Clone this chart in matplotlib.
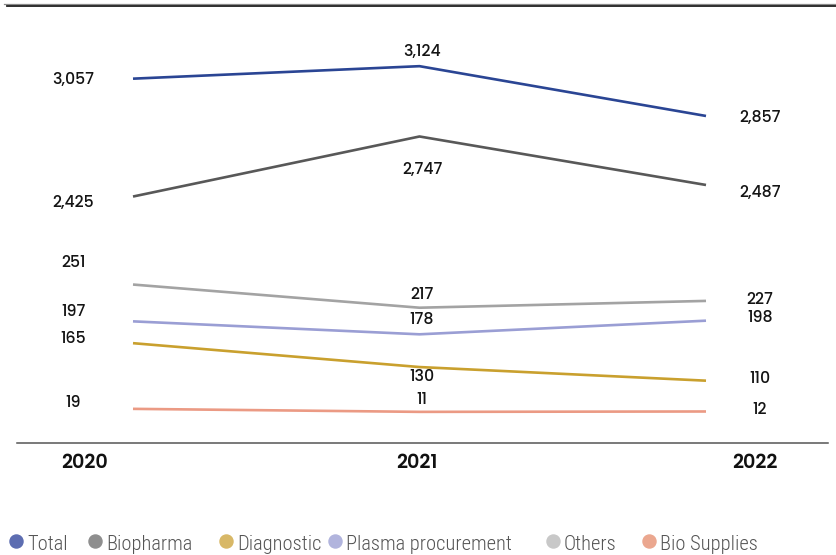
import numpy as np
import matplotlib
matplotlib.use("Agg")
import matplotlib.pyplot as plt
from matplotlib.lines import Line2D

# ---- data -------------------------------------------------------------
years = [2020, 2021, 2022]
series_names = ["Total", "Biopharma", "Diagnostic", "Plasma procurement",
                "Others", "Bio Supplies"]
total = [3057, 3124, 2857]
biopharma = [2425, 2747, 2487]
diagnostic = [165, 130, 110]
plasma = [197, 178, 198]
others = [251, 217, 227]
bio_supplies = [19, 11, 12]

# ---- styling ------------------------------------------------------------
line_colors = ["#2a4594", "#585858", "#c9a02e", "#9a9ed4", "#a3a3a3", "#eb9a84"]
legend_colors = ["#5d6db1", "#8e8e8e", "#d8b867", "#b1b4dd", "#c8c8c8", "#eba78f"]

# value-label offsets in pixels (dx per year, dy per series/year; +dy = down)
label_dx = [-59.5, 2.5, 54]
label_dy = {
    "Total": [1, -14, 2],
    "Biopharma": [6, 34, 8],
    "Diagnostic": [-4, 10, -2],
    "Plasma procurement": [-9, -14, -3],
    "Others": [-22, -13, -1],
    "Bio Supplies": [-6, -12, -1],
}

W, H = 836, 555
fig = plt.figure(figsize=(W / 100, H / 100), dpi=100)
ax = fig.add_axes([17 / W, 112 / H, (828 - 17) / W, 435 / H])

# broken value axis: a low band, a mid band and a high band
band_values = [-20, 0, 25, 100, 260, 2400, 3200, 3450]
band_heights = [0, 27, 36.4, 55.5, 164.6, 241.8, 391, 435]


def fwd(v):
    return np.interp(v, band_values, band_heights)


def inv(h):
    return np.interp(h, band_heights, band_values)


ax.set_yscale("function", functions=(fwd, inv))
ax.set_ylim(-20, 3450)
ax.set_xlim(2020 - 116 * 2 / 573, 2022 + 122 * 2 / 573)

all_series = [total, biopharma, diagnostic, plasma, others, bio_supplies]
px2pt = 0.72
value_font = dict(family="Poppins", weight=500, fontsize=11.3,
                  color="#141414")

for name, vals, col in zip(series_names, all_series, line_colors):
    ax.plot(years, vals, color=col, lw=1.9, solid_capstyle="butt", zorder=3)
    for i, (yr, v) in enumerate(zip(years, vals)):
        ax.annotate(f"{v:,}", xy=(yr, v), xytext=(label_dx[i] * px2pt,
                                                   -label_dy[name][i] * px2pt),
                    textcoords="offset points", ha="center", va="center",
                    **value_font)

# axis cosmetics
for s in ["top", "right", "left"]:
    ax.spines[s].set_visible(False)
ax.spines["bottom"].set_color("#555555")
ax.spines["bottom"].set_linewidth(1.1)
ax.set_yticks([])
ax.set_xticks([])
ax.yaxis.set_minor_locator(matplotlib.ticker.NullLocator())

# year labels
year_dx = [-49, -2.5, 49]
for yr, dx in zip(years, year_dx):
    ax.annotate(str(yr), xy=(yr, 0), xycoords=("data", "axes fraction"),
                xytext=(dx * px2pt, -21 * px2pt), textcoords="offset points",
                ha="center", va="center", family="Poppins",
                weight=600, fontsize=13.8, color="#111111")

# double rule at the top of the figure
fig.add_artist(Line2D([4 / W, 1], [1 - 4.2 / H] * 2, color="#8a8a8a", lw=0.9))
fig.add_artist(Line2D([7 / W, 1], [1 - 5.8 / H] * 2, color="#1e1e1e", lw=1.3))

# legend row
legend_marker_x = [16, 95, 226, 335, 553, 649]
marker_y = 1 - 541 / H
text_base = 1 - 549.5 / H
for name, col, mx in zip(series_names, legend_colors, legend_marker_x):
    fig.add_artist(Line2D([mx / W], [marker_y], marker="o", markersize=9.4,
                          markerfacecolor=col, markeredgecolor=col, lw=0))
    fig.text((mx + 11) / W, text_base, name, ha="left", va="baseline",
             family="Roboto Condensed", weight=300, fontsize=14.8,
             color="#555555")

fig.savefig("out.png", dpi=100)
